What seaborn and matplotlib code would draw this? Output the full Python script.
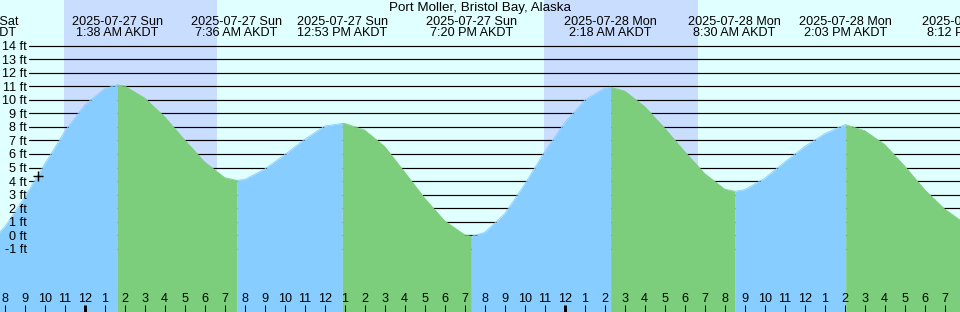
import numpy as np
import pandas as pd
import matplotlib
matplotlib.use("Agg")
import matplotlib.pyplot as plt
import matplotlib.transforms as mtransforms
import seaborn as sns

# ---------------- data ----------------
title = "Port Moller, Bristol Bay, Alaska"

hourly_start = "2025-07-26 19:00"
hourly_heights = [
    -0.9, 0.6, 2.8, 5.25, 7.65,                       # Jul 26 19h..23h
    9.62, 10.83, 11.02, 10.13, 8.74, 7.03, 5.4, 4.25,  # Jul 27 0h..7h
    4.11, 4.88, 5.95, 7.08, 8.06, 8.26, 7.76, 6.55,    # 8h..15h
    4.65, 2.72, 1.05, 0.02, 0.2, 1.58, 3.76, 6.17,     # 16h..23h
    8.3, 9.97, 10.86, 10.65, 9.5, 7.9, 6.17, 4.55,     # Jul 28 0h..7h
    3.4, 3.36, 4.2, 5.4, 6.55, 7.49, 8.16, 7.72,       # 8h..15h
    6.7, 5.1, 3.35, 1.92, 0.87,                        # 16h..20h
]

extreme_times = [
    "2025-07-26 18:31", "2025-07-27 01:38", "2025-07-27 07:36",
    "2025-07-27 12:53", "2025-07-27 19:20", "2025-07-28 02:18",
    "2025-07-28 08:30", "2025-07-28 14:03", "2025-07-28 20:12",
]
extreme_heights = [-1.1, 11.1, 4.05, 8.26, -0.09, 10.93, 3.24, 8.16, 0.8]

sunset_times = ["2025-07-26 22:58", "2025-07-27 22:58"]
sunrise_times = ["2025-07-27 06:37", "2025-07-28 06:40"]

now_time = "2025-07-26 21:39"
now_height = 4.37

y_ticks = list(range(-1, 15))
view_start = "2025-07-26 19:46"
view_end = "2025-07-28 19:46"
tz_name = "AKDT"

# ---------------- style ----------------
day_bg = "#E0FFFF"
night_bg = "#C9DDFF"
rise_col = "#87CDFF"
fall_col = "#7CCD7C"

W, H = 960, 312
sns.set_theme(style="white")
plt.rcParams["font.family"] = ["Liberation Sans", "DejaVu Sans"]
FS = 9.1
FS_TITLE = 9.6

fig = plt.figure(figsize=(W / 100, H / 100), dpi=100, facecolor=day_bg)
ax = fig.add_axes([0, 0, 1, 1])
ax.set_facecolor(day_bg)
ax.set_axisbelow(False)
for s in ax.spines.values():
    s.set_visible(False)

# ---------------- curve data ----------------
hourly = pd.DataFrame({
    "time": pd.date_range(hourly_start, periods=len(hourly_heights), freq="h"),
    "height": hourly_heights,
})
ext = pd.DataFrame({"time": pd.to_datetime(extreme_times), "height": extreme_heights})
curve = (pd.concat([hourly, ext]).sort_values("time")
         .drop_duplicates("time").reset_index(drop=True))

segs = []
for i in range(len(ext) - 1):
    t0, t1 = ext.time[i], ext.time[i + 1]
    part = curve[(curve.time >= t0) & (curve.time <= t1)].copy()
    part["seg"] = i
    part["phase"] = "rising" if ext.height[i + 1] > ext.height[i] else "falling"
    segs.append(part)
segs = pd.concat(segs, ignore_index=True)

y_bottom = -5.68
y_top = 17.38

# night shading
for ss, sr in zip(sunset_times, sunrise_times):
    ax.axvspan(pd.Timestamp(ss), pd.Timestamp(sr), color=night_bg, lw=0, zorder=0.5)

# gridlines
for v in y_ticks:
    ax.axhline(v, xmin=29.3 / W, xmax=1, color="black", lw=0.85, zorder=1)

# fills
pal = {"rising": rise_col, "falling": fall_col}
for seg_id, part in segs.groupby("seg"):
    ax.fill_between(part.time, part.height, y_bottom - 1, color=pal[part.phase.iloc[0]],
                    lw=0, zorder=2)
sns.lineplot(data=segs, x="time", y="height", hue="phase", units="seg", estimator=None,
             palette=pal, legend=False, lw=0.6, ax=ax, zorder=2.1)

# current time marker
ax.plot(pd.Timestamp(now_time), now_height, marker="+", ms=7, mew=1.0,
        color="black", zorder=6)

ax.set_xlim(pd.Timestamp(view_start), pd.Timestamp(view_end))
ax.set_ylim(y_bottom, y_top)
ax.set_xlabel("")
ax.set_ylabel("")

# y ticks (labels inside)
ax.set_yticks(y_ticks, labels=[f"{v} ft" for v in y_ticks])
ax.tick_params(axis="y", length=0, pad=-26.7 * 0.72, labelsize=FS, labelcolor="black")
for lab in ax.get_yticklabels():
    lab.set_zorder(7)

# x ticks: hourly, thicker at midnight
hours = pd.date_range(pd.Timestamp(view_start).ceil("h"), pd.Timestamp(view_end), freq="h")
midnights = [t for t in hours if t.hour == 0]
ax.set_xticks(midnights)
ax.set_xticks([t for t in hours if t.hour != 0], minor=True)
ax.tick_params(axis="x", which="major", direction="in", length=7 * 0.72, width=3 * 0.72,
               color="black", bottom=True, top=False, labelbottom=False)
ax.tick_params(axis="x", which="minor", direction="in", length=7 * 0.72, width=1 * 0.72,
               color="black", bottom=True, top=False, labelbottom=False)

xb = mtransforms.blended_transform_factory(ax.transData, ax.transAxes)
for t in hours:
    ax.text(t, 10.3 / H, str(t.hour % 12 or 12), transform=xb, ha="center",
            va="baseline", fontsize=FS, color="black", zorder=7)

# header labels
ax.text(0.5, 1 - 11 / H, title, transform=ax.transAxes, ha="center", va="baseline",
        fontsize=FS_TITLE, color="black", zorder=7)
for t in ext.time:
    line1 = t.strftime("%Y-%m-%d %a")
    line2 = f"{t.hour % 12 or 12}:{t.minute:02d} {'AM' if t.hour < 12 else 'PM'} {tz_name}"
    ax.text(t, 1 - 24.7 / H, line1, transform=xb, ha="center", va="baseline",
            fontsize=FS, color="black", zorder=7, clip_on=False)
    ax.text(t, 1 - 36.4 / H, line2, transform=xb, ha="center", va="baseline",
            fontsize=FS, color="black", zorder=7, clip_on=False)

fig.savefig("out.png", dpi=100, facecolor=day_bg)
